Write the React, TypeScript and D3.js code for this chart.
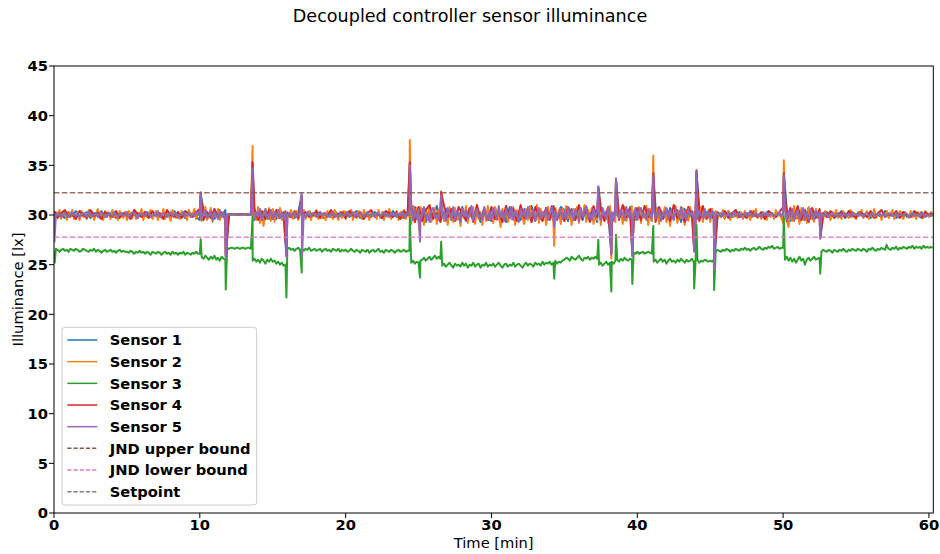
import React from 'react';
import * as d3 from 'd3';

// ---------- data ----------
const sensorNames = ['Sensor 1', 'Sensor 2', 'Sensor 3', 'Sensor 4', 'Sensor 5'];
const refNames = ['JND upper bound', 'JND lower bound', 'Setpoint'];
const refValues = [32.25, 27.75, 30];
const xTicks = [0, 10, 20, 30, 40, 50, 60];
const yTicks = [0, 5, 10, 15, 20, 25, 30, 35, 40, 45];
const fineStep = 0.125; // minutes between samples of sensors 2, 3, 5
const mediumStep = 0.25; // minutes between samples of sensors 1, 4

const sensor1 = [
  29.8, 30.2, 30.0, 29.7, 30.3, 29.9, 30.4, 29.8, 30.1, 30.3, 29.7, 30.2, 29.9, 30.4, 29.8, 30.0, 30.3, 29.7, 30.2, 29.9,
  30.3, 29.8, 30.1, 29.7, 30.4, 29.9, 30.2, 29.8, 30.3, 30.0, 29.7, 30.2, 29.9, 30.4, 29.8, 30.1, 29.7, 30.3, 30.0, 29.8,
  29.5, 30.5, 29.8, 30.4, 29.6, 30.3, 29.9, 30.5, 30.0, 30.1, 30.1, 30.0, 30.0, 30.1, 30.0, 29.5, 30.4, 29.7, 30.6, 29.6,
  30.4, 29.6, 30.5, 29.8, 29.9, 30.3, 29.7, 30.2, 30.0, 29.8, 30.4, 29.9, 30.1, 30.3, 29.7, 30.2, 29.8, 30.4, 30.0, 29.8,
  30.3, 29.8, 30.1, 30.4, 29.7, 30.2, 29.9, 29.8, 30.3, 30.0, 29.7, 30.2, 29.9, 30.4, 29.8, 30.1, 29.7, 30.3, 29.4, 30.8,
  29.5, 30.6, 29.3, 30.4, 29.7, 30.9, 29.4, 30.2, 30.7, 29.5, 30.3, 29.6, 30.8, 29.4, 30.5, 29.8, 30.6, 29.3, 30.7, 29.6,
  29.4, 30.7, 29.6, 30.5, 29.3, 30.8, 29.7, 30.4, 29.5, 30.6, 29.8, 30.9, 29.4, 30.3, 29.6, 30.7, 29.5, 30.4, 29.7, 30.8,
  30.5, 29.4, 30.6, 29.7, 30.3, 29.5, 30.8, 29.6, 30.4, 29.3, 30.7, 29.8, 30.5, 29.4, 30.6, 29.7, 30.2, 29.5, 30.8, 29.6,
  29.5, 30.6, 29.7, 30.4, 29.4, 30.8, 29.6, 30.3, 29.5, 30.7, 29.8, 30.5, 29.3, 30.6, 29.7, 30.4, 29.5, 30.8, 29.6, 30.3,
  29.6, 30.3, 29.9, 30.2, 29.7, 30.4, 29.8, 30.1, 30.3, 29.7, 30.2, 29.9, 30.4, 29.8, 30.1, 29.7, 30.3, 30.0, 29.8, 30.2,
  29.5, 30.6, 29.4, 30.5, 29.7, 30.4, 29.5, 30.7, 29.6, 30.3, 29.8, 29.9, 30.3, 29.8, 30.2, 29.9, 30.4, 29.7, 30.1, 30.3,
  29.8, 30.2, 29.9, 30.3, 29.7, 30.1, 30.0, 29.8, 30.4, 29.9, 30.2, 29.7, 30.1, 30.3, 29.8, 30.0, 30.2, 29.9, 30.3, 29.8,
  30.1, 29.9,
];
const sensor1Spikes: [number, number][] = [
  [10.06, 32.1], [11.78, 25.8], [13.62, 34.8], [15.94, 25.9], [16.98, 32.0], [24.4, 35.1],
  [37.33, 32.8], [38.22, 26.1], [38.54, 33.6], [39.66, 25.9], [41.1, 34.1], [43.9, 26.4],
  [44.06, 34.3], [45.27, 24.8], [50.05, 34.1], [52.55, 27.7],
];

const sensor2 = [
  29.7, 30.3, 29.9, 30.5, 29.6, 30.1, 30.4, 29.5, 30.2, 29.8,
  30.5, 29.6, 30.0, 30.3, 29.5, 30.4, 29.8, 30.2, 29.6, 30.5,
  29.9, 30.3, 29.5, 30.1, 30.6, 29.7, 30.2, 29.5, 30.4, 29.9,
  30.3, 29.6, 30.5, 29.8, 30.1, 29.5, 30.4, 30.0, 29.7, 30.3,
  29.5, 30.4, 30.1, 29.7, 30.5, 29.6, 30.2, 29.9, 30.6, 29.5,
  30.3, 29.8, 30.1, 30.5, 29.6, 30.0, 30.4, 29.5, 30.2, 29.7,
  30.6, 29.6, 30.3, 29.9, 29.4, 30.5, 30.0, 29.7, 30.3, 29.6,
  30.4, 29.8, 30.2, 29.5, 30.5, 29.9, 30.1, 30.6, 29.6, 30.2,
  30.6, 29.4, 30.2, 30.8, 29.5, 30.0, 30.7, 29.3, 30.4, 29.8,
  30.6, 29.5, 30.3, 29.9, 29.4, 30.0, 30.1, 30.0, 30.0, 30.1,
  30.0, 30.0, 30.1, 30.0, 30.0, 30.1, 30.0, 30.0, 30.1, 29.4,
  30.6, 29.5, 30.8, 29.2, 30.3, 28.9, 30.5, 29.6, 30.7, 29.4,
  30.6, 29.3, 30.4, 29.7, 30.7, 29.5, 30.2, 29.6, 30.3, 29.8,
  30.5, 29.6, 30.1, 30.4, 29.5, 30.2, 29.8, 30.5, 29.6, 30.0,
  30.4, 29.5, 30.2, 29.9, 30.5, 29.6, 30.3, 29.7, 30.1, 29.5,
  30.4, 29.8, 30.2, 29.6, 30.5, 30.0, 29.5, 30.3, 29.7, 30.4,
  29.6, 30.3, 29.9, 30.5, 29.5, 30.2, 29.7, 30.4, 30.0, 29.6,
  30.5, 29.8, 30.2, 29.5, 30.4, 29.9, 30.1, 29.6, 30.5, 29.7,
  30.3, 29.5, 30.2, 29.8, 30.6, 29.6, 30.1, 29.9, 30.4, 29.5,
  30.3, 29.7, 30.5, 29.6, 30.2, 29.8, 29.1, 30.9, 29.3, 30.7,
  29.2, 30.8, 30.4, 29.0, 30.6, 29.5, 30.9, 29.3, 30.2, 30.7,
  29.1, 30.5, 29.6, 31.0, 29.4, 30.3, 29.0, 30.8, 30.1, 29.3,
  30.7, 29.5, 30.2, 28.9, 30.6, 29.7, 30.9, 29.2, 30.4, 29.8,
  30.8, 29.1, 30.5, 29.6, 30.3, 29.0, 30.7, 29.4, 30.9, 29.6,
  30.4, 29.2, 30.8, 29.5, 30.1, 28.8, 30.6, 29.7, 30.9, 29.3,
  30.2, 29.6, 30.8, 29.0, 30.5, 29.4, 30.7, 29.8, 29.1, 30.6,
  29.5, 30.9, 29.3, 30.3, 29.7, 31.0, 29.2, 30.6, 29.5, 30.4,
  29.0, 30.8, 29.6, 30.2, 29.3, 30.7, 29.8, 30.5, 29.1, 30.6,
  29.4, 30.9, 29.7, 30.3, 29.0, 30.6, 29.5, 30.8, 29.2, 30.4,
  29.8, 31.0, 29.3, 30.5, 29.6, 30.7, 29.1, 30.2, 29.5, 30.8,
  29.0, 30.6, 29.7, 30.4, 29.2, 30.9, 29.6, 30.1, 29.3, 30.7,
  29.8, 30.5, 29.1, 30.8, 29.4, 30.3, 29.7, 30.9, 29.2, 30.5,
  29.5, 30.8, 29.2, 30.4, 29.7, 30.9, 29.0, 30.6, 29.4, 30.3,
  29.8, 30.7, 29.1, 30.5, 29.6, 30.8, 29.3, 30.2, 28.9, 30.6,
  29.5, 30.9, 29.2, 30.4, 29.7, 30.7, 29.0, 30.5, 29.4, 30.8,
  29.6, 30.3, 29.1, 30.6, 29.5, 30.8, 29.3, 30.4, 29.7, 30.5,
  29.3, 30.6, 29.8, 30.4, 29.6, 30.2, 29.9, 30.5, 29.6, 30.1,
  30.4, 29.5, 30.2, 29.8, 30.5, 29.7, 30.0, 30.3, 29.6, 30.4,
  29.8, 30.2, 29.5, 30.4, 29.9, 30.6, 29.7, 30.1, 29.6, 30.3,
  30.0, 29.5, 30.4, 29.8, 30.2, 29.6, 30.5, 29.9, 30.1, 29.7,
  29.2, 30.8, 29.5, 28.8, 30.6, 29.4, 30.9, 29.6, 30.3, 29.1,
  30.7, 29.5, 30.4, 29.2, 30.8, 29.6, 30.2, 29.3, 30.6, 29.7,
  30.4, 30.2, 29.6, 30.4, 29.8, 30.1, 29.5, 30.3, 29.9, 30.5,
  29.7, 30.2, 29.6, 30.4, 29.9, 30.1, 29.7, 30.5, 29.8, 30.2,
  29.6, 30.3, 29.9, 30.5, 29.7, 30.1, 30.4, 29.6, 30.2, 29.8,
  30.6, 29.7, 30.0, 30.3, 29.5, 30.2, 29.9, 30.4, 29.7, 30.1,
  30.5, 29.6, 30.2, 29.8, 30.4, 29.9, 29.6, 30.3, 30.0, 29.7,
  30.4, 29.8, 30.1, 29.6, 30.3, 29.9, 30.2, 29.7, 30.4, 30.0,
  29.8, 30.3, 30.0,
];
const sensor2Spikes: [number, number][] = [
  [0.03, 29.0], [10.06, 32.2], [11.78, 26.0], [13.62, 36.95], [15.94, 26.5], [16.98, 31.5],
  [24.4, 37.55], [25.1, 28.0], [26.55, 32.4], [34.3, 26.9], [37.33, 32.5], [38.22, 25.6],
  [38.54, 33.5], [39.66, 26.5], [41.1, 36.0], [43.9, 26.8], [44.06, 34.4], [45.27, 26.0],
  [50.05, 35.5], [52.55, 27.6],
];

const sensor3 = [
  26.4, 26.6, 26.5, 26.3, 26.5, 26.6, 26.4, 26.5, 26.3, 26.6,
  26.5, 26.4, 26.6, 26.5, 26.3, 26.4, 26.6, 26.5, 26.4, 26.3,
  26.5, 26.4, 26.6, 26.3, 26.5, 26.4, 26.2, 26.4, 26.5, 26.3,
  26.4, 26.5, 26.3, 26.4, 26.2, 26.4, 26.5, 26.3, 26.4, 26.3,
  26.3, 26.2, 26.4, 26.3, 26.1, 26.3, 26.2, 26.4, 26.2, 26.3,
  26.1, 26.3, 26.2, 26.0, 26.3, 26.2, 26.1, 26.3, 26.2, 26.0,
  26.2, 26.3, 26.1, 26.2, 26.0, 26.3, 26.1, 26.2, 26.0, 26.2,
  26.1, 26.3, 26.0, 26.2, 26.1, 26.0, 26.2, 26.1, 26.3, 26.1,
  26.1, 25.8, 25.6, 25.9, 25.7, 25.5, 25.8, 25.6, 25.9, 25.5,
  25.7, 25.4, 25.8, 25.6, 25.5, 26.7, 26.6, 26.7, 26.7, 26.6,
  26.7, 26.7, 26.6, 26.7, 26.7, 26.6, 26.7, 26.7, 26.6, 25.4,
  25.6, 25.3, 25.5, 25.2, 25.6, 25.4, 25.1, 25.5, 25.3, 25.6,
  25.3, 25.4, 25.1, 25.3, 25.0, 25.2, 24.9, 25.0, 26.6, 26.7,
  26.5, 26.6, 26.4, 26.6, 26.7, 26.5, 26.6, 26.4, 26.6, 26.5,
  26.7, 26.4, 26.5, 26.6, 26.4, 26.5, 26.6, 26.3, 26.5, 26.6,
  26.4, 26.5, 26.3, 26.6, 26.5, 26.4, 26.6, 26.3, 26.5, 26.4,
  26.5, 26.3, 26.4, 26.6, 26.4, 26.3, 26.5, 26.4, 26.2, 26.5,
  26.4, 26.3, 26.5, 26.2, 26.4, 26.5, 26.3, 26.4, 26.6, 26.3,
  26.4, 26.2, 26.5, 26.4, 26.3, 26.5, 26.4, 26.2, 26.4, 26.5,
  26.3, 26.4, 26.5, 26.3, 26.4, 26.4, 25.2, 25.4, 25.1, 25.3,
  25.2, 25.4, 25.5, 25.7, 25.4, 25.6, 25.8, 25.5, 25.7, 25.9,
  25.6, 25.8, 25.6, 24.9, 25.1, 24.8, 25.0, 25.2, 24.9, 24.7,
  25.1, 24.9, 25.0, 24.8, 25.2, 24.9, 25.1, 24.7, 25.0, 24.9,
  25.2, 24.8, 25.0, 25.1, 24.7, 25.0, 24.9, 25.2, 24.8, 25.0,
  24.9, 25.1, 24.8, 25.0, 25.2, 24.9, 24.7, 25.0, 25.1, 24.8,
  25.0, 24.9, 25.2, 24.8, 25.0, 25.1, 24.9, 24.7, 25.0, 25.2,
  24.9, 25.1, 25.0, 24.8, 25.2, 25.0, 25.1, 24.9, 25.3, 25.0,
  25.2, 25.1, 25.3, 25.0, 25.2, 25.4, 25.1, 25.3, 25.2, 25.4,
  25.5, 25.7, 25.6, 25.4, 25.8, 25.6, 25.5, 25.7, 25.9, 25.6,
  25.4, 25.7, 25.6, 25.8, 25.5, 25.7, 25.6, 25.8, 25.6, 25.0,
  25.2, 24.9, 25.1, 25.3, 25.0, 25.2, 25.3, 25.1, 25.4, 25.5,
  25.3, 25.6, 25.4, 25.7, 25.5, 25.4, 25.6, 25.5, 26.2, 26.1,
  26.3, 26.1, 26.2, 26.3, 26.1, 26.2, 26.3, 26.2, 26.1, 25.3,
  25.5, 25.2, 25.4, 25.6, 25.3, 25.5, 25.1, 25.4, 25.6, 25.3,
  25.4, 25.2, 25.5, 25.3, 25.6, 25.4, 25.2, 25.5, 25.3, 25.4,
  25.6, 25.3, 25.4, 25.5, 25.2, 25.4, 25.3, 25.5, 25.4, 25.3,
  25.4, 25.3, 25.5, 26.3, 26.5, 26.4, 26.3, 26.5, 26.4, 26.6,
  26.5, 26.3, 26.5, 26.4, 26.6, 26.5, 26.4, 26.6, 26.5, 26.7,
  26.5, 26.6, 26.4, 26.6, 26.7, 26.5, 26.6, 26.8, 26.6, 26.5,
  26.7, 26.6, 26.8, 26.7, 26.9, 26.6, 26.7, 26.8, 26.6, 26.7,
  26.7, 25.5, 25.8, 25.4, 25.7, 25.3, 25.6, 25.2, 25.5, 25.8,
  25.4, 25.6, 25.0, 25.5, 25.7, 25.4, 25.6, 25.8, 25.5, 25.6,
  25.7, 26.3, 26.5, 26.4, 26.3, 26.5, 26.4, 26.2, 26.5, 26.4,
  26.3, 26.5, 26.4, 26.6, 26.4, 26.3, 26.5, 26.4, 26.6, 26.5,
  26.4, 26.6, 26.5, 26.4, 26.6, 26.5, 26.3, 26.6, 26.5, 26.7,
  26.5, 26.4, 26.6, 26.5, 26.7, 26.6, 26.5, 26.8, 26.6, 26.5,
  26.7, 26.6, 26.8, 26.5, 26.7, 26.6, 26.8, 26.7, 26.6, 26.8,
  26.7, 26.9, 26.6, 26.8, 26.7, 26.8, 26.6, 26.9, 26.7, 26.8,
  26.7, 26.8, 26.7,
];
const sensor3Spikes: [number, number][] = [
  [0.05, 25.2], [10.06, 27.55], [11.78, 22.5], [13.62, 29.8], [15.94, 21.7], [16.99, 24.2],
  [24.4, 29.7], [25.1, 23.7], [26.55, 27.3], [34.3, 23.6], [37.33, 27.5], [38.22, 22.3],
  [38.54, 28.0], [39.66, 23.05], [41.1, 28.9], [43.9, 22.6], [44.06, 29.0], [45.27, 22.45],
  [50.05, 29.8], [52.55, 24.1], [57.1, 27.0],
];

const sensor4 = [
  30.4, 29.7, 30.2, 30.5, 29.8, 30.1, 29.6, 30.4, 30.0, 29.7, 30.5, 29.9, 30.2, 29.6, 30.3, 30.1, 29.8, 30.4, 29.7, 30.2,
  30.0, 29.6, 30.5, 30.1, 29.8, 30.3, 29.7, 30.4, 29.9, 30.2, 29.6, 30.5, 30.0, 29.8, 30.3, 29.7, 30.4, 30.1, 29.8, 30.3,
  30.6, 29.5, 30.3, 29.7, 30.6, 29.8, 30.2, 29.6, 30.1, 30.1, 30.0, 30.1, 30.1, 30.0, 30.1, 30.6, 29.5, 30.4, 29.6, 30.5,
  29.6, 30.5, 29.7, 30.3, 30.2, 29.8, 30.4, 29.7, 30.1, 30.3, 29.8, 30.0, 30.4, 29.7, 30.2, 29.9, 30.5, 29.8, 30.1, 30.3,
  29.7, 30.4, 30.0, 29.8, 30.3, 29.6, 30.2, 30.5, 29.9, 30.1, 29.7, 30.4, 30.2, 29.8, 30.3, 29.6, 30.4, 30.0, 30.9, 29.3,
  30.8, 29.4, 30.5, 31.0, 29.6, 30.2, 29.3, 30.9, 29.8, 30.6, 29.4, 30.8, 30.1, 29.5, 30.7, 29.3, 31.0, 29.7, 30.4, 29.5,
  30.8, 29.6, 30.3, 29.3, 30.9, 29.8, 30.6, 29.4, 31.0, 29.7, 30.5, 29.3, 30.8, 30.0, 29.4, 30.7, 29.6, 30.9, 29.5, 30.4,
  29.4, 30.8, 30.2, 29.5, 31.0, 29.7, 30.6, 29.3, 30.9, 29.8, 30.5, 29.4, 30.8, 29.6, 30.3, 29.5, 31.0, 29.8, 30.6, 29.4,
  30.7, 29.5, 30.9, 29.8, 30.4, 29.3, 30.8, 29.6, 30.6, 29.4, 31.0, 29.7, 30.5, 29.3, 30.8, 29.9, 30.6, 29.4, 30.9, 29.6,
  30.6, 29.5, 30.3, 29.8, 30.4, 29.7, 30.2, 30.5, 29.8, 30.1, 29.7, 30.4, 30.0, 29.8, 30.3, 29.6, 30.4, 30.1, 29.8, 30.3,
  30.8, 29.4, 30.7, 29.6, 30.9, 29.5, 30.5, 29.3, 30.7, 29.7, 30.6, 30.2, 29.8, 30.4, 29.7, 30.1, 30.3, 29.8, 30.4, 30.0,
  29.7, 30.3, 30.1, 29.8, 30.4, 29.7, 30.2, 30.5, 29.8, 30.1, 29.9, 30.4, 29.7, 30.3, 30.0, 29.8, 30.4, 30.1, 29.7, 30.3,
  30.0, 30.2,
];
const sensor4Spikes: [number, number][] = [
  [10.06, 32.0], [11.78, 25.9], [13.62, 35.3], [15.94, 26.0], [16.98, 31.8], [24.4, 35.3],
  [26.55, 32.3], [37.33, 32.7], [38.22, 26.2], [38.54, 33.6], [39.66, 26.3], [41.1, 34.2],
  [43.9, 26.5], [44.06, 34.5], [45.27, 25.5], [50.05, 34.2], [52.55, 27.8],
];

const sensor5 = [
  30.1, 29.9, 30.2, 30.3, 29.8, 30.0, 30.2, 29.9, 29.8, 30.1,
  30.3, 30.0, 29.9, 30.2, 29.7, 30.1, 30.2, 30.0, 29.8, 30.3,
  30.1, 29.9, 30.0, 30.2, 29.8, 30.1, 30.3, 29.9, 30.0, 29.8,
  30.2, 30.1, 29.9, 30.3, 30.0, 29.8, 30.1, 30.2, 29.9, 30.0,
  30.2, 29.8, 30.0, 30.3, 30.1, 29.9, 29.7, 30.2, 30.0, 30.1,
  29.9, 30.3, 30.2, 29.8, 30.0, 30.1, 29.9, 30.4, 29.8, 30.0,
  30.2, 30.1, 29.8, 30.0, 30.3, 29.9, 30.1, 30.2, 29.7, 30.0,
  30.1, 30.3, 29.9, 30.0, 30.2, 29.8, 30.1, 29.9, 30.3, 30.0,
  30.4, 29.6, 30.1, 30.5, 29.7, 29.9, 30.4, 29.5, 30.3, 30.0,
  29.6, 30.5, 29.8, 30.2, 29.6, 30.1, 30.1, 30.0, 30.1, 30.1,
  30.0, 30.1, 30.1, 30.0, 30.1, 30.1, 30.0, 30.1, 30.1, 30.5,
  29.6, 30.3, 29.8, 30.6, 29.5, 30.2, 30.4, 29.7, 30.0, 30.5,
  29.6, 30.3, 29.8, 30.5, 29.7, 30.2, 29.6, 30.4, 30.0, 30.2,
  29.9, 30.1, 30.3, 29.8, 30.0, 30.2, 29.9, 30.1, 29.8, 30.3,
  30.0, 29.9, 30.2, 30.1, 29.8, 30.0, 30.3, 29.9, 30.1, 30.2,
  29.8, 30.0, 30.1, 30.3, 29.9, 30.0, 29.8, 30.2, 30.1, 29.9,
  30.1, 30.2, 29.9, 30.0, 30.3, 29.8, 30.1, 29.9, 30.2, 30.0,
  29.8, 30.1, 30.3, 29.9, 30.0, 30.2, 29.8, 30.1, 30.2, 29.9,
  30.0, 30.3, 29.9, 30.1, 29.8, 30.2, 30.0, 29.9, 30.2, 30.1,
  29.9, 30.3, 30.0, 29.8, 30.2, 30.0, 30.7, 29.5, 30.4, 29.6,
  30.6, 29.4, 30.2, 30.8, 29.6, 30.1, 29.3, 30.5, 30.7, 29.7,
  30.0, 29.5, 30.9, 29.8, 30.3, 29.4, 30.6, 30.1, 29.6, 30.8,
  29.5, 30.4, 30.2, 29.3, 30.7, 29.9, 30.5, 29.6, 30.0, 30.9,
  29.4, 30.3, 30.6, 29.7, 30.1, 29.5, 30.8, 30.0, 29.6, 30.4,
  29.5, 30.7, 30.2, 29.6, 30.9, 29.8, 30.3, 29.4, 30.6, 30.0,
  29.7, 30.8, 29.5, 30.4, 30.1, 29.3, 30.6, 29.9, 30.5, 29.6,
  30.8, 29.7, 30.2, 30.5, 29.4, 30.0, 30.7, 29.6, 30.3, 29.8,
  30.6, 29.5, 30.1, 30.9, 29.7, 30.4, 29.5, 30.2, 30.6, 29.6,
  30.3, 29.6, 30.8, 29.9, 30.4, 29.5, 30.6, 30.1, 29.4, 30.7,
  29.8, 30.5, 30.9, 29.6, 30.2, 29.5, 30.6, 29.8, 30.4, 30.0,
  29.5, 30.7, 30.1, 29.6, 30.8, 29.9, 30.3, 29.4, 30.6, 30.0,
  29.7, 30.5, 30.2, 29.5, 30.8, 29.8, 30.4, 29.6, 30.1, 30.7,
  29.6, 30.4, 30.7, 29.8, 30.1, 29.5, 30.6, 30.0, 29.7, 30.8,
  29.6, 30.3, 30.5, 29.4, 30.2, 29.9, 30.7, 29.6, 30.4, 30.0,
  29.5, 30.6, 30.2, 29.8, 30.8, 29.6, 30.3, 29.5, 30.6, 29.9,
  30.2, 29.7, 30.5, 29.6, 30.4, 30.0, 29.7, 30.6, 29.8, 30.3,
  29.7, 30.4, 30.1, 29.9, 30.2, 30.0, 29.8, 30.3, 30.1, 29.9,
  30.2, 29.8, 30.0, 30.3, 29.9, 30.1, 30.2, 29.8, 30.0, 30.2,
  29.9, 30.1, 30.3, 29.8, 30.0, 30.2, 29.9, 30.1, 29.8, 30.2,
  30.0, 30.3, 29.9, 30.1, 30.2, 29.8, 30.0, 30.1, 30.3, 29.9,
  30.2, 30.7, 29.5, 30.4, 29.8, 30.6, 29.4, 30.2, 30.5, 29.6,
  30.0, 30.7, 29.7, 30.3, 29.5, 30.6, 30.1, 29.6, 30.4, 29.8,
  30.3, 30.1, 29.9, 30.2, 30.0, 29.8, 30.1, 30.2, 29.9, 30.0,
  30.2, 29.8, 30.1, 30.0, 30.2, 29.9, 30.1, 29.8, 30.2, 30.0,
  30.1, 29.9, 30.2, 30.0, 29.8, 30.1, 30.2, 29.9, 30.0, 30.2,
  29.8, 30.1, 30.0, 30.2, 29.9, 30.1, 29.8, 30.0, 30.2, 30.1,
  29.9, 30.0, 30.2, 29.8, 30.1, 30.0, 29.9, 30.2, 30.1, 29.8,
  30.0, 30.2, 29.9, 30.1, 30.0, 29.8, 30.2, 30.1, 29.9, 30.0,
  30.1, 29.9, 30.0,
];
const sensor5Spikes: [number, number][] = [
  [0.03, 27.3], [10.06, 32.3], [11.78, 25.7], [13.62, 34.7], [15.94, 25.8], [16.98, 32.2],
  [17.01, 25.8], [24.4, 35.0], [25.1, 27.3], [26.55, 32.0], [34.3, 28.8], [37.33, 32.9],
  [38.22, 26.0], [38.54, 33.7], [39.66, 25.8], [41.1, 34.0], [43.9, 26.3], [44.06, 34.3],
  [45.27, 24.6], [50.05, 34.0], [52.55, 27.65],
];

const sensorValues = [sensor1, sensor2, sensor3, sensor4, sensor5];
const sensorSpikes = [sensor1Spikes, sensor2Spikes, sensor3Spikes, sensor4Spikes, sensor5Spikes];
const sensorSteps = [mediumStep, fineStep, fineStep, mediumStep, fineStep];

// ---------- styling ----------
const sensorColors = ['#1f77b4', '#ff7f0e', '#2ca02c', '#d62728', '#9467bd'];
const refColors = ['#8c564b', '#e377c2', '#7f7f7f'];

const W = 940;
const H = 554;
const M = { left: 54, right: 6.7, top: 66, bottom: 41 };
const FONT = '"DejaVu Sans", sans-serif';

export default function App() {
  const x = d3.scaleLinear().domain([0, 60.3]).range([M.left, W - M.right]);
  const y = d3.scaleLinear().domain([0, 45]).range([H - M.bottom, M.top]);
  const line = d3
    .line<[number, number]>()
    .x((d) => x(d[0]))
    .y((d) => y(d[1]));

  const series = sensorValues.map((vals, k) => {
    const pts: [number, number][] = vals.map((v, i) => [i * sensorSteps[k], v] as [number, number]);
    return pts.concat(sensorSpikes[k]).sort((a, b) => a[0] - b[0]);
  });

  const x0 = M.left;
  const x1 = W - M.right;
  const y0 = H - M.bottom;
  const y1 = M.top;

  const legendItems = [
    ...sensorNames.map((n, i) => ({ name: n, color: sensorColors[i], dashed: false })),
    ...refNames.map((n, i) => ({ name: n, color: refColors[i], dashed: true })),
  ];
  const lgX = 62;
  const lgY = 327.3;
  const lgW = 194.7;
  const lgH = 177.7;
  const rowH = 21.67;

  return (
    <svg
      width={W}
      height={H}
      style={{ position: 'absolute', left: 0, top: 0, background: '#fff' }}
      fontFamily={FONT}
    >
      <rect x={0} y={0} width={W} height={H} fill="#fff" />
      <defs>
        <clipPath id="plotClip">
          <rect x={x0} y={y1} width={x1 - x0} height={y0 - y1} />
        </clipPath>
      </defs>

      <text x={W / 2} y={22} textAnchor="middle" fontSize={17.6} fill="#000">
        Decoupled controller sensor illuminance
      </text>

      <g clipPath="url(#plotClip)">
        {series.map((pts, k) => (
          <path
            key={k}
            d={line(pts) || ''}
            fill="none"
            stroke={sensorColors[k]}
            strokeWidth={2}
            strokeLinejoin="round"
          />
        ))}
        {refValues.map((v, i) => (
          <line
            key={i}
            x1={x0}
            x2={x1}
            y1={y(v)}
            y2={y(v)}
            stroke={refColors[i]}
            strokeOpacity={0.85}
            strokeWidth={1.5}
            strokeDasharray="5.5,2.4"
          />
        ))}
      </g>

      <rect x={x0} y={y1} width={x1 - x0} height={y0 - y1} fill="none" stroke="#000" strokeWidth={1} />

      {xTicks.map((t) => (
        <g key={t}>
          <line x1={x(t)} x2={x(t)} y1={y0} y2={y0 + 5} stroke="#000" strokeWidth={1} />
          <text x={x(t)} y={530} textAnchor="middle" fontSize={14.7} fontWeight="bold" fill="#000">
            {t}
          </text>
        </g>
      ))}
      {yTicks.map((t) => (
        <g key={t}>
          <line x1={x0 - 5} x2={x0} y1={y(t)} y2={y(t)} stroke="#000" strokeWidth={1} />
          <text x={48} y={y(t)} dy="0.36em" textAnchor="end" fontSize={14.7} fontWeight="bold" fill="#000">
            {t}
          </text>
        </g>
      ))}

      <text x={(x0 + x1) / 2} y={548} textAnchor="middle" fontSize={14.7} fill="#000">
        Time [min]
      </text>
      <text
        transform={`translate(${23},${(y0 + y1) / 2}) rotate(-90)`}
        textAnchor="middle"
        fontSize={14.7}
        fill="#000"
      >
        Illuminance [lx]
      </text>

      <rect
        x={lgX}
        y={lgY}
        width={lgW}
        height={lgH}
        rx={3}
        ry={3}
        fill="#fff"
        fillOpacity={0.8}
        stroke="#cccccc"
        strokeWidth={1}
      />
      {legendItems.map((it, i) => {
        const cy = 340 + i * rowH;
        return (
          <g key={it.name}>
            <line
              x1={67.3}
              x2={97.3}
              y1={cy}
              y2={cy}
              stroke={it.color}
              strokeWidth={1.5}
              strokeDasharray={it.dashed ? '4.2,2' : undefined}
            />
            <text x={109.7} y={cy} dy="0.36em" fontSize={14.7} fontWeight="bold" fill="#000">
              {it.name}
            </text>
          </g>
        );
      })}
    </svg>
  );
}
